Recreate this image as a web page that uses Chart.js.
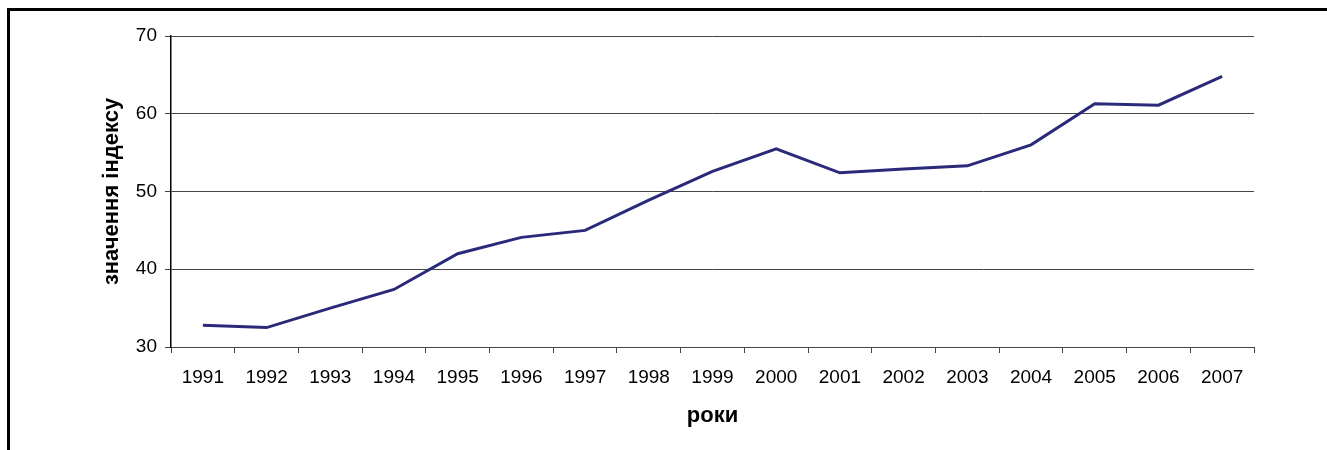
<!DOCTYPE html>
<html>
<head>
<meta charset="utf-8">
<script src="https://cdn.jsdelivr.net/npm/chart.js@4/dist/chart.umd.min.js"></script>
<style>
    html, body { margin: 0; padding: 0; background: #fff; }
    #wrap { position: relative; width: 1327px; height: 450px; overflow: hidden; }
    #frame {
        position: absolute; left: 7px; top: 8px; width: 1330px; height: 460px;
        border-top: 3px solid #000; border-left: 3px solid #000;
    }
    canvas { position: absolute; left: 0; top: 0; }
</style>
</head>
<body>
<div id="wrap">
    <div id="frame"></div>
    <canvas id="indexChart" width="1327" height="450"></canvas>
</div>
<script>
const years = ['1991', '1992', '1993', '1994', '1995', '1996', '1997', '1998', '1999',
    '2000', '2001', '2002', '2003', '2004', '2005', '2006', '2007']
const indexValues = [32.8, 32.5, 35.0, 37.4, 42.0, 44.1, 45.0, 48.9, 52.6,
    55.5, 52.4, 52.9, 53.3, 56.0, 61.3, 61.1, 64.8]
const yTicks = [30, 40, 50, 60, 70]

window.addEventListener('load', function () {
    const ctx = document.getElementById('indexChart').getContext('2d')
    const font = 'Liberation Sans, Arial, sans-serif'

    new Chart(ctx, {
        type: 'line',
        data: {
            labels: years,
            datasets: [{
                data: indexValues,
                borderColor: '#2b2a7a',
                borderWidth: 3,
                pointRadius: 0,
                tension: 0,
                fill: false
            }]
        },
        options: {
            responsive: false,
            animation: false,
            layout: { padding: { left: 0, top: 36, right: 73, bottom: 0 } },
            plugins: { legend: { display: false }, tooltip: { enabled: false } },
            scales: {
                x: {
                    offset: true,
                    grid: {
                        offset: true,
                        drawOnChartArea: false,
                        color: '#444',
                        tickLength: 6
                    },
                    border: { color: '#444', width: 1 },
                    ticks: {
                        color: '#000',
                        font: { family: font, size: 19 },
                        padding: 13,
                        maxRotation: 0,
                        autoSkip: false
                    },
                    title: {
                        display: true,
                        text: 'роки',
                        color: '#000',
                        font: { family: font, size: 22, weight: 'bold' },
                        padding: { top: 0, bottom: 21 }
                    },
                    afterFit: function (scale) { scale.height = 103 }
                },
                y: {
                    min: yTicks[0],
                    max: yTicks[yTicks.length - 1],
                    afterBuildTicks: function (scale) {
                        scale.ticks = yTicks.map(v => ({ value: v }))
                    },
                    grid: {
                        color: '#444',
                        lineWidth: 1,
                        tickLength: 6
                    },
                    border: { color: '#000', width: 1.5 },
                    ticks: {
                        color: '#000',
                        font: { family: font, size: 19 },
                        padding: 8
                    },
                    title: {
                        display: true,
                        text: 'значення індексу',
                        color: '#000',
                        font: { family: font, size: 22, weight: 'bold' },
                        padding: { top: 99, bottom: 0 }
                    },
                    afterFit: function (scale) { scale.width = 171 }
                }
            }
        }
    })
})
</script>
</body>
</html>
